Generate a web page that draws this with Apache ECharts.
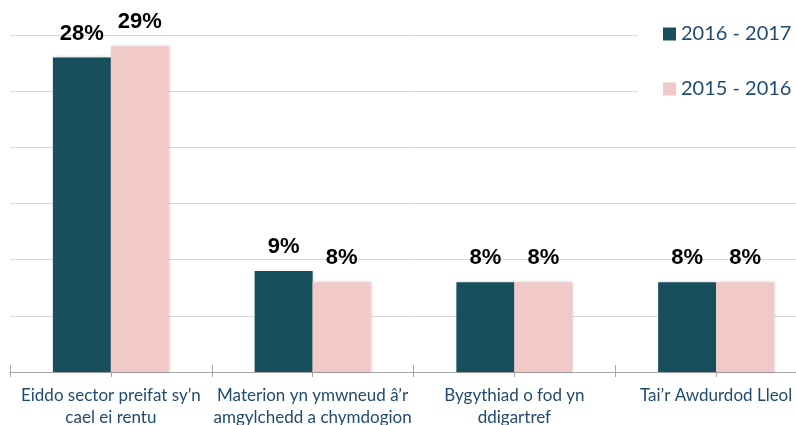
<!DOCTYPE html>
<html>
<head>
<meta charset="utf-8">
<script src="https://cdn.jsdelivr.net/npm/echarts@6/dist/echarts.min.js"></script>
<style>
  html, body { margin: 0; padding: 0; background: #fff; overflow: hidden; }
  /* the plot runs slightly past the right edge, so clip it in a fixed frame */
  #frame { position: relative; width: 796px; height: 425px; overflow: hidden; }
  #chart { position: absolute; left: 0; top: 0; width: 818px; height: 425px; }
</style>
</head>
<body>
<div id="frame"><div id="chart"></div></div>
<script>
// Reasons for homelessness, share of cases by year
const categories = [
  'Eiddo sector preifat sy\u2019n\ncael ei rentu',
  'Materion yn ymwneud \u00e2\u2019r\namgylchedd a chymdogion',
  'Bygythiad o fod yn\nddigartref',
  'Tai\u2019r Awdurdod Lleol'
];
const seriesNames = ['2016 - 2017', '2015 - 2016'];
const values2016_17 = [28, 9, 8, 8];
const values2015_16 = [29, 8, 8, 8];

const darkTeal = '#174f5c';
const pink = '#f2c9c9';
const textBlue = '#1f4a72';
const font = 'Lato, "Open Sans", sans-serif';

const chart = echarts.init(document.getElementById('chart'), null, { renderer: 'canvas' });

const labelStyle = {
  show: true,
  position: 'top',
  distance: 13,
  formatter: '{c}%',
  fontFamily: '"Liberation Sans", Arial, sans-serif',
  fontWeight: 'bold',
  fontSize: 22,
  color: '#000'
};

const barShadow = {
  shadowColor: 'rgba(0,0,0,0.18)',
  shadowBlur: 3,
  shadowOffsetX: 1,
  shadowOffsetY: 0
};

chart.setOption({
  animation: false,
  backgroundColor: '#fff',
  grid: {
    left: 10, top: 35, width: 807, height: 337,
    containLabel: false,
    outerBoundsMode: 'none'
  },
  legend: {
    orient: 'vertical',
    left: 638,
    top: 0,
    padding: [24, 30, 24, 25],
    backgroundColor: '#fff',
    itemWidth: 13,
    itemHeight: 13,
    itemGap: 35,
    icon: 'rect',
    textStyle: { fontFamily: font, fontSize: 20, color: textBlue, lineHeight: 20 },
    data: seriesNames
  },
  xAxis: [
    {
      type: 'category',
      data: categories,
      axisLine: { show: true, lineStyle: { color: '#a6a6a6', width: 1 } },
      axisTick: { show: true, inside: true, length: 7, lineStyle: { color: '#a6a6a6' } },
      axisLabel: {
        interval: 0,
        margin: 13,
        fontFamily: font,
        fontSize: 17,
        lineHeight: 22,
        color: textBlue
      }
    },
    {
      // half-category ticks beneath the baseline
      type: 'category',
      position: 'bottom',
      data: ['', '', '', '', '', '', '', ''],
      axisLine: { show: false },
      axisTick: { show: true, length: 5, lineStyle: { color: '#a6a6a6' } },
      axisLabel: { show: false }
    }
  ],
  yAxis: {
    type: 'value',
    min: 0,
    max: 30,
    interval: 5,
    axisLine: { show: false },
    axisTick: { show: false },
    axisLabel: { show: false },
    splitLine: { lineStyle: { color: '#d9d9d9', width: 1 } }
  },
  series: [
    {
      name: seriesNames[0],
      type: 'bar',
      xAxisIndex: 0,
      data: values2016_17,
      barWidth: 58,
      barGap: '0%',
      itemStyle: Object.assign({ color: darkTeal }, barShadow),
      label: labelStyle
    },
    {
      name: seriesNames[1],
      type: 'bar',
      xAxisIndex: 0,
      data: values2015_16,
      barWidth: 58,
      barGap: '0%',
      itemStyle: Object.assign({ color: pink }, barShadow),
      label: labelStyle
    }
  ]
});
</script>
</body>
</html>
